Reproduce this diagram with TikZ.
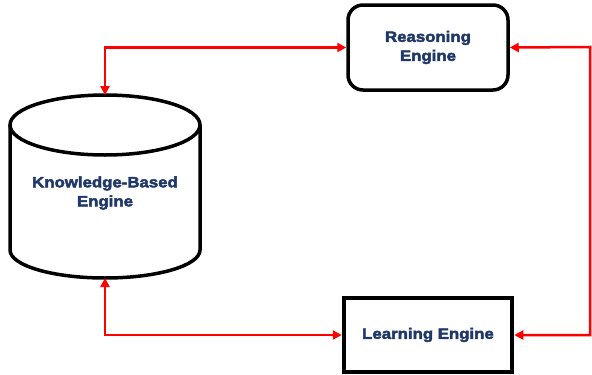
\documentclass[tikz,border=0pt]{standalone}
\usepackage{fontspec}
\usetikzlibrary{arrows.meta}
\newfontfamily\enginefont{Liberation Sans}[FakeStretch=1.12,FakeBold=3]
\definecolor{engineblue}{RGB}{31,56,104}

\begin{document}
\begin{tikzpicture}[x=1pt,y=1pt]
  \tikzstyle{every node}+=[inner sep=0pt]
  \tikzset{
    engtext/.style={text=engineblue, align=center,
      font=\enginefont\bfseries\fontsize{15}{19}\selectfont},
    link/.style={draw=red, line width=2.5pt, {Triangle[length=9pt,width=9pt]}-{Triangle[length=9pt,width=9pt]}}
  }
  \useasboundingbox (0,0) rectangle (592,-375);
  % knowledge base drum
  \draw [line width=3.5pt] (105,-125) ellipse (95 and 30);
  \draw [line width=3.5pt] (10,-125) -- (10,-250) arc (180:360:95 and 28) -- (200,-125);
  \coordinate (kbtop) at (105,-95);
  \coordinate (kbbot) at (105,-278);
  \node [engtext] (kb) at (105,-193) {Knowledge-Based\\Engine};
  % blocks
  \node [draw, line width=3.5pt, rounded corners=15pt, minimum width=160pt,
         minimum height=85pt, engtext] (reason) at (428,-47.5) {Reasoning\\Engine};
  \node [draw, line width=4.5pt, minimum width=168pt, minimum height=74pt,
         engtext] (learn) at (428,-335) {Learning Engine};
  \coordinate (turn) at (590,-47);
  % connectors
  \draw [link] (kbtop) |- (reason.west);
  \draw [link] (reason.east) -- (turn) |- (learn.east);
  \draw [link] (kbbot) |- (learn.west);
\end{tikzpicture}
\end{document}
